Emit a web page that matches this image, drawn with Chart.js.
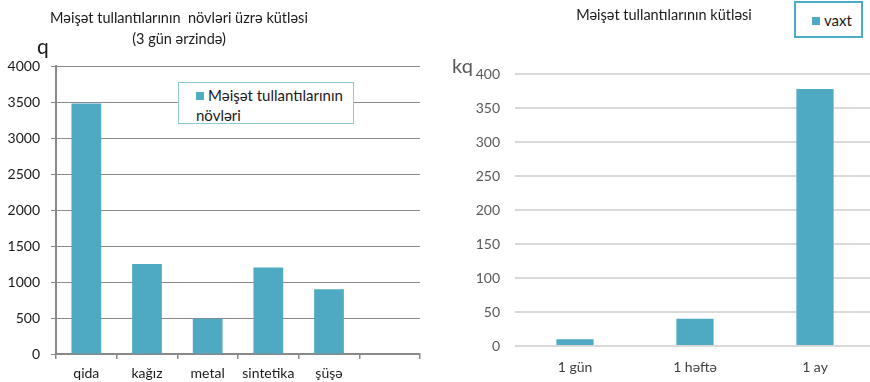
<!DOCTYPE html>
<html>
<head>
<meta charset="utf-8">
<script src="https://cdn.jsdelivr.net/npm/chart.js@4.4.1/dist/chart.umd.min.js"></script>
<style>
  html, body { margin: 0; padding: 0; background: #fff; overflow: hidden; }
  body { width: 870px; height: 382px; position: relative; font-family: Lato, "Open Sans", sans-serif; }
  canvas { position: absolute; top: 0; }
  .title { position: absolute; font-size: 14.5px; color: #1a1a1a; white-space: nowrap; transform: translateX(-50%); text-align: center; line-height: 21px; }
  .legend { position: absolute; background: #fff; font-size: 15px; color: #1a1a1a; line-height: 20px; }
  .swatch { display: inline-block; width: 8px; height: 8px; background: #4ea9c3; margin-right: 4px; vertical-align: 1px; }
</style>
</head>
<body>
<canvas id="typesChart" width="440" height="382" style="left:0"></canvas>
<canvas id="timeChart" width="435" height="382" style="left:440px"></canvas>

<div class="title" style="left:179px;top:7px">Məişət tullantılarının&nbsp; növləri üzrə kütləsi<br>(3 gün ərzində)</div>
<div style="position:absolute;left:37px;top:33px;font-size:21px;color:#1a1a1a">q</div>
<div class="legend" style="left:178px;top:82px;width:174px;height:40px;border:1px solid #8fc9d6;">
  <div style="padding:2px 0 0 17px"><span class="swatch"></span>Məişət tullantılarının<br>növləri</div>
</div>

<div class="title" style="left:664px;top:4px">Məişət tullantılarının kütləsi</div>
<div style="position:absolute;left:452px;top:53px;font-size:20px;color:#595959">kq</div>
<div class="legend" style="left:794px;top:1px;width:65px;height:33px;border:2px solid #4bacc6;">
  <div style="padding:7px 0 0 16px"><span class="swatch"></span>vaxt</div>
</div>

<script>
// waste by type over 3 days (grams)
var typeLabels = ['qida', 'kağız', 'metal', 'sintetika', 'şüşə', ''];
var typeValues = [3480, 1250, 490, 1200, 900, null];

// waste by period (kg)
var periodLabels = ['1 gün', '1 həftə', '1 ay'];
var periodValues = [10, 40, 378];

var barColor = '#4ea9c3';
var font = { family: 'Lato, "Open Sans", sans-serif', size: 14 };

function plainNumber(value) {
    return String(value);
}

new Chart(document.getElementById('typesChart'), {
    type: 'bar',
    data: {
        labels: typeLabels,
        datasets: [{
            label: 'Məişət tullantılarının növləri',
            data: typeValues,
            backgroundColor: barColor,
            barPercentage: 0.49,
            categoryPercentage: 1
        }]
    },
    options: {
        responsive: false,
        animation: false,
        layout: { padding: { top: 66, right: 20, left: 0, bottom: 0 } },
        plugins: { legend: { display: false }, tooltip: { enabled: false } },
        scales: {
            x: {
                afterFit: function(scale) { scale.height = 28; },
                grid: { offset: true, drawOnChartArea: false, tickLength: 5, color: '#898989', lineWidth: 1.5 },
                border: { color: '#898989', width: 2 },
                ticks: { color: '#1a1a1a', font: font, padding: 6, maxRotation: 0, autoSkip: false }
            },
            y: {
                min: 0,
                max: 4000,
                afterFit: function(scale) { scale.width = 56; },
                grid: { color: '#8a8a8a', lineWidth: 1, tickLength: 5 },
                border: { color: '#898989', width: 2 },
                ticks: { color: '#1a1a1a', font: font, padding: 11, stepSize: 500, callback: plainNumber }
            }
        }
    }
});

new Chart(document.getElementById('timeChart'), {
    type: 'bar',
    data: {
        labels: periodLabels,
        datasets: [{
            label: 'vaxt',
            data: periodValues,
            backgroundColor: barColor,
            barPercentage: 0.31,
            categoryPercentage: 1
        }]
    },
    options: {
        responsive: false,
        animation: false,
        layout: { padding: { top: 74, right: 0, left: 0, bottom: 0 } },
        plugins: { legend: { display: false }, tooltip: { enabled: false } },
        scales: {
            x: {
                afterFit: function(scale) { scale.height = 36; },
                grid: { display: false },
                border: { display: false },
                ticks: { color: '#404040', font: font, padding: 5, maxRotation: 0 }
            },
            y: {
                min: 0,
                max: 400,
                afterFit: function(scale) { scale.width = 75; },
                grid: { color: '#d9d9d9', lineWidth: 2, drawTicks: false },
                border: { display: false },
                ticks: { color: '#595959', font: font, padding: 15, stepSize: 50, callback: plainNumber }
            }
        }
    }
});
</script>
</body>
</html>
